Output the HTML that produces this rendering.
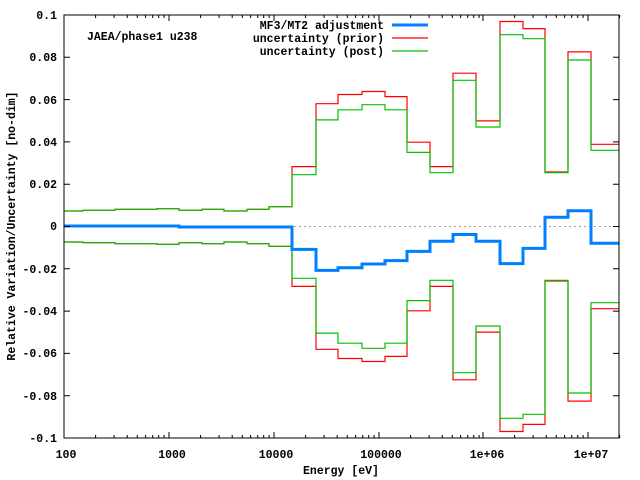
<!DOCTYPE html>
<html><head><meta charset="utf-8"><style>body{margin:0;background:#fff}svg{display:block}text{font-family:"Liberation Mono",monospace;font-size:11.5px;font-weight:bold;fill:#000}</style></head>
<body>
<svg width="640" height="480" viewBox="0 0 640 480" xmlns="http://www.w3.org/2000/svg">
<rect width="640" height="480" fill="#fff"/>
<line x1="64" y1="226.5" x2="619" y2="226.5" stroke="#a0a0a0" stroke-dasharray="2,3"/>
<g fill="none" stroke-width="1.2">
<g id="pr"><path stroke="#ff0000" d="M64 211 H83 V210.3 H115 V209.3 H157 V208.7 H179 V210.3 H202 V209.3 H224 V211 H247 V209.3 H269 V206.7 H292 V166.6 H316 V103.7 H338 V94.5 H362 V91.5 H385 V96.6 H407 V142.2 H430 V166.6 H453 V73.2 H476 V120.9 H500 V21.5 H523 V28.6 H545 V172 H568 V51.9 H591 V144.3 H619"/>
<path stroke="#00c000" d="M64 211 H83 V210.3 H115 V209.3 H157 V208.7 H179 V210.3 H202 V209.3 H224 V211 H247 V209.3 H269 V206.7 H292 V174.7 H316 V119.9 H338 V109.8 H362 V104.7 H385 V109.8 H407 V152.4 H430 V172.7 H453 V80.3 H476 V127 H500 V34.7 H523 V38.7 H545 V172.7 H568 V60 H591 V150.3 H619"/></g>
<use href="#pr" transform="translate(0,453) scale(1,-1)"/>
<path stroke="#0080ff" stroke-width="3" d="M64 226 H179 V227 H292 V249.4 H316 V270.4 H338 V267.7 H362 V264 H385 V260.6 H407 V251.4 H430 V241.3 H453 V234.5 H476 V241.3 H500 V263.6 H523 V248.4 H545 V217.2 H568 V210.8 H591 V243.3 H619"/>
</g>
<g stroke="#000" stroke-width="1">
<path d="M64 15 V438 H619 V15 Z" fill="none"/>
<path d="M64 15h6M619 15h-6M64 57.3h6M619 57.3h-6M64 99.6h6M619 99.6h-6M64 141.9h6M619 141.9h-6M64 184.2h6M619 184.2h-6M64 226.5h6M619 226.5h-6M64 268.8h6M619 268.8h-6M64 311.1h6M619 311.1h-6M64 353.4h6M619 353.4h-6M64 395.7h6M619 395.7h-6"/>
<path d="M169 438v-6M169 15v6M274 438v-6M274 15v6M379 438v-6M379 15v6M483 438v-6M483 15v6M588 438v-6M588 15v6
M95.6 438v-3M95.6 15v3M114.1 438v-3M114.1 15v3M127.2 438v-3M127.2 15v3M137.3 438v-3M137.3 15v3M145.6 438v-3M145.6 15v3M152.7 438v-3M152.7 15v3M158.7 438v-3M158.7 15v3M164.1 438v-3M164.1 15v3
M200.6 438v-3M200.6 15v3M219.1 438v-3M219.1 15v3M232.2 438v-3M232.2 15v3M242.3 438v-3M242.3 15v3M250.6 438v-3M250.6 15v3M257.7 438v-3M257.7 15v3M263.7 438v-3M263.7 15v3M269.1 438v-3M269.1 15v3
M305.6 438v-3M305.6 15v3M324.1 438v-3M324.1 15v3M337.2 438v-3M337.2 15v3M347.3 438v-3M347.3 15v3M355.6 438v-3M355.6 15v3M362.7 438v-3M362.7 15v3M368.7 438v-3M368.7 15v3M374.1 438v-3M374.1 15v3
M410.6 438v-3M410.6 15v3M429.1 438v-3M429.1 15v3M442.2 438v-3M442.2 15v3M452.3 438v-3M452.3 15v3M460.6 438v-3M460.6 15v3M467.7 438v-3M467.7 15v3M473.7 438v-3M473.7 15v3M479.1 438v-3M479.1 15v3
M514.6 438v-3M514.6 15v3M533.1 438v-3M533.1 15v3M546.2 438v-3M546.2 15v3M556.3 438v-3M556.3 15v3M564.6 438v-3M564.6 15v3M571.7 438v-3M571.7 15v3M577.7 438v-3M577.7 15v3M583.1 438v-3M583.1 15v3
M619.6 438v-3M619.6 15v3"/>
</g>
<g text-anchor="end">
<text x="57" y="19">0.1</text><text x="57" y="61">0.08</text><text x="57" y="104">0.06</text><text x="57" y="146">0.04</text><text x="57" y="188">0.02</text><text x="57" y="230">0</text><text x="57" y="273">-0.02</text><text x="57" y="315">-0.04</text><text x="57" y="357">-0.06</text><text x="57" y="400">-0.08</text><text x="57" y="442">-0.1</text>
</g>
<g text-anchor="middle">
<text x="66" y="458">100</text><text x="172" y="458">1000</text><text x="276" y="458">10000</text><text x="381" y="458">100000</text><text x="487" y="458">1e+06</text><text x="591" y="458">1e+07</text>
<text x="341" y="474">Energy [eV]</text>
<text transform="translate(15,226) rotate(-90)">Relative Variation/Uncertainty [no-dim]</text>
</g>
<text x="87" y="40">JAEA/phase1 u238</text>
<g text-anchor="end"><text x="384" y="29">MF3/MT2 adjustment</text><text x="384" y="42">uncertainty (prior)</text><text x="384" y="55">uncertainty (post)</text></g>
<line x1="392" y1="25" x2="428" y2="25" stroke="#0080ff" stroke-width="3"/>
<line x1="392" y1="38" x2="428" y2="38" stroke="#ff0000" stroke-width="1.2"/>
<line x1="392" y1="51" x2="428" y2="51" stroke="#00c000" stroke-width="1.2"/>
</svg>
</body></html>
